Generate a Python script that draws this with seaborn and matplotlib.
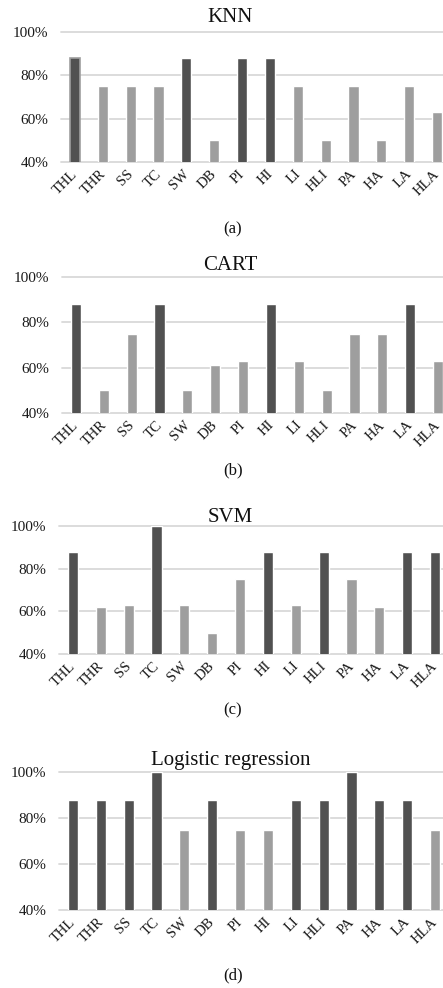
import matplotlib
matplotlib.use("Agg")
import matplotlib.pyplot as plt
import matplotlib.transforms as mtransforms
import seaborn as sns
import pandas as pd

# Features (x categories) shared by all four classifiers
features = ['THL', 'THR', 'SS', 'TC', 'SW', 'DB', 'PI', 'HI', 'LI', 'HLI', 'PA', 'HA', 'LA', 'HLA']

# Accuracy (%) per feature
knn_acc = [88, 75, 75, 75, 88, 50, 88, 88, 75, 50, 75, 50, 75, 63]
cart_acc = [88, 50, 75, 88, 50, 61, 63, 88, 63, 50, 75, 75, 88, 63]
svm_acc = [88, 62, 63, 100, 63, 50, 75, 88, 63, 88, 75, 62, 88, 88]
logreg_acc = [88, 88, 88, 100, 75, 88, 75, 75, 88, 88, 100, 88, 88, 75]

titles = ['KNN', 'CART', 'SVM', 'Logistic regression']
captions = ['(a)', '(b)', '(c)', '(d)']

sns.set_theme(style='white')
plt.rcParams['font.family'] = ['Liberation Serif', 'DejaVu Serif']

DARK = '#515151'
LIGHT = '#9e9e9e'
GRID = '#d9d9d9'

H = 988.0
# (left px, top px, bottom px, title y px, caption y px)
panels = [
    (61, 32, 162, 18, 229),
    (62, 277, 413, 265, 470),
    (59, 526, 654, 518, 710),
    (59, 772, 910, 760, 975),
]

fig = plt.figure(figsize=(4.43, 9.88), dpi=100)
fig.patch.set_facecolor('white')
shift = mtransforms.ScaledTranslation(-4 / 100, 0, fig.dpi_scale_trans)

for i, (vals, title, cap, (lx, top, bot, ty, cy)) in enumerate(zip(
        [knn_acc, cart_acc, svm_acc, logreg_acc], titles, captions, panels)):
    ax = fig.add_axes([lx / 443, 1 - bot / H, 390 / 443, (bot - top) / H])
    df = pd.DataFrame({'feature': features, 'acc': vals})
    colors = {f: (DARK if v >= 85 else LIGHT) for f, v in zip(features, vals)}
    sns.barplot(data=df, x='feature', y='acc', hue='feature', palette=colors,
                legend=False, width=0.36, saturation=1, ax=ax, zorder=3)
    if i == 0:
        # first KNN bar has a light outline in the original
        ax.patches[0].set_edgecolor(LIGHT)
        ax.patches[0].set_linewidth(1.2)
    ax.set_ylim(40, 100)
    ax.set_yticks([40, 60, 80, 100])
    ax.set_yticklabels([f'{t}%' for t in [40, 60, 80, 100]], fontsize=11)
    ax.set_xlim(-0.5, len(features) - 0.5)
    ax.set_xlabel('')
    ax.set_ylabel('')
    ax.tick_params(axis='y', length=0, pad=9, colors='#1a1a1a')
    ax.tick_params(axis='x', length=0, pad=4, colors='#1a1a1a')
    for lab in ax.get_xticklabels():
        lab.set_rotation(45)
        lab.set_ha('right')
        lab.set_rotation_mode('anchor')
        lab.set_fontsize(10.5)
        lab.set_transform(lab.get_transform() + shift)
    for t in [40, 60, 80, 100]:
        ax.axhline(t, color=GRID, lw=1.3, zorder=1, clip_on=False)
    for s in ax.spines.values():
        s.set_visible(False)
    fig.text(0.52, 1 - ty / H, title, ha='center', va='center', fontsize=15,
             color='#111111')
    fig.text(0.525, 1 - cy / H, cap, ha='center', va='center', fontsize=12,
             color='#111111')

fig.savefig('out.png', dpi=100, facecolor='white')
